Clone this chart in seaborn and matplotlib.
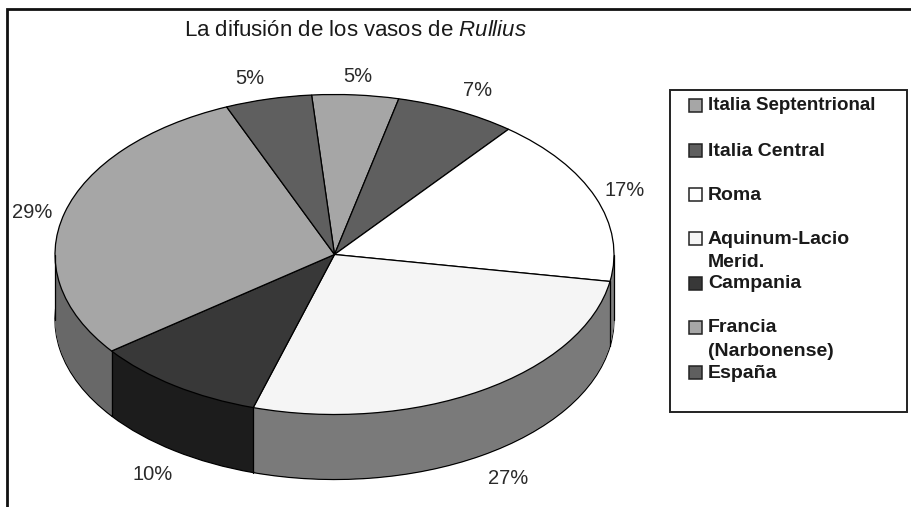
import numpy as np
import matplotlib
matplotlib.use("Agg")
import matplotlib.pyplot as plt
import seaborn as sns
from matplotlib.patches import Rectangle

# values in clockwise order, from the top of the pie
REGIONS = ['Italia Septentrional', 'Italia Central', 'Roma', 'Aquinum-Lacio\nMerid.',
           'Campania', 'Francia\n(Narbonense)', 'España']
PERCENT = [5, 7, 17, 27, 10, 29, 5]
TOP_COLORS = ['#a6a6a6', '#5f5f5f', '#ffffff', '#f5f5f5', '#383838', '#a6a6a6', '#5f5f5f']
SIDE_COLORS = ['#6e6e6e', '#404040', '#808080', '#7a7a7a', '#1c1c1c', '#686868', '#404040']
LEGEND_COLORS = ['#a6a6a6', '#5f5f5f', '#ffffff', '#f5f5f5', '#383838', '#a6a6a6', '#5f5f5f']
LEGEND_Y = [105, 150, 194, 238, 283, 327, 372]
LEGEND_SIZE = [13.5, 14, 14, 14, 14, 14, 14]
LABEL_POS = [(358, 76), (478, 91), (625, 191), (508, 478), (153, 475), (32, 212), (250, 79)]

W, H = 911, 507
CX, CY, RX, RY = 334.5, 254.5, 279.5, 160
DEPTH = 65
START = 94.7

sns.set_theme(style="white")
plt.rcParams['font.family'] = ['Liberation Sans', 'DejaVu Sans']
plt.rcParams['mathtext.fontset'] = 'custom'
plt.rcParams['mathtext.it'] = 'Liberation Sans:italic'
plt.rcParams['mathtext.rm'] = 'Liberation Sans'

fig = plt.figure(figsize=(W / 100, H / 100), dpi=100)

# pie axes: the unit circle gets squashed into an ellipse
ax = fig.add_axes([0, 0, 1, 1])
depth = DEPTH / RY

# the wall of the pie is the same pie stacked downwards
for k in np.linspace(depth, 0, DEPTH + 1):
    edge = {'edgecolor': 'black', 'linewidth': 0.9} if k == depth else {'linewidth': 0}
    ax.pie(PERCENT, colors=SIDE_COLORS, startangle=START, counterclock=False,
           center=(0, -k), wedgeprops=edge)

# vertical edges on the visible part of the wall
angles = np.deg2rad(START - np.cumsum(PERCENT) * 3.6)
for a in angles:
    if np.sin(a) < 0:
        ax.plot([np.cos(a)] * 2, [np.sin(a), np.sin(a) - depth], color='black', lw=0.9)
ax.plot([-1, -1], [0, -depth], color='black', lw=0.9)
ax.plot([1, 1], [0, -depth], color='black', lw=0.9)

ax.pie(PERCENT, colors=TOP_COLORS, startangle=START, counterclock=False,
       wedgeprops={'edgecolor': 'black', 'linewidth': 0.9})

ax.set_aspect('auto')
ax.set_xlim(-CX / RX, (W - CX) / RX)
ax.set_ylim(-(H - CY) / RY, CY / RY)
ax.axis('off')

# overlay in pixel coordinates for frame, labels and legend
over = fig.add_axes([0, 0, 1, 1], zorder=5)
over.set_xlim(0, W)
over.set_ylim(H, 0)
over.axis('off')
over.patch.set_alpha(0)

over.plot([7, 7, W], [H, 8.5, 8.5], color='#111111', lw=2, solid_joinstyle='miter')

over.text(355.5, 31, r'La difusión de los vasos de $\mathit{Rullius}$', ha='center', va='center',
          fontsize=16, color='#1a1a1a')

for val, (x, y) in zip(PERCENT, LABEL_POS):
    over.text(x, y, f'{val}%', ha='center', va='center', fontsize=14.5, color='#2a2a2a')

over.add_patch(Rectangle((670, 90), 237, 322, facecolor='white', edgecolor='#222222', lw=1.4))
for name, col, y, size in zip(REGIONS, LEGEND_COLORS, LEGEND_Y, LEGEND_SIZE):
    over.add_patch(Rectangle((689, y - 6.5), 13, 13, facecolor=col, edgecolor='#222222', lw=1.1))
    over.text(708, y - 7.5, name, ha='left', va='top', fontsize=size, fontweight='bold',
              color='#1a1a1a', linespacing=1.5)

fig.savefig('out.png', dpi=100, facecolor='white')
